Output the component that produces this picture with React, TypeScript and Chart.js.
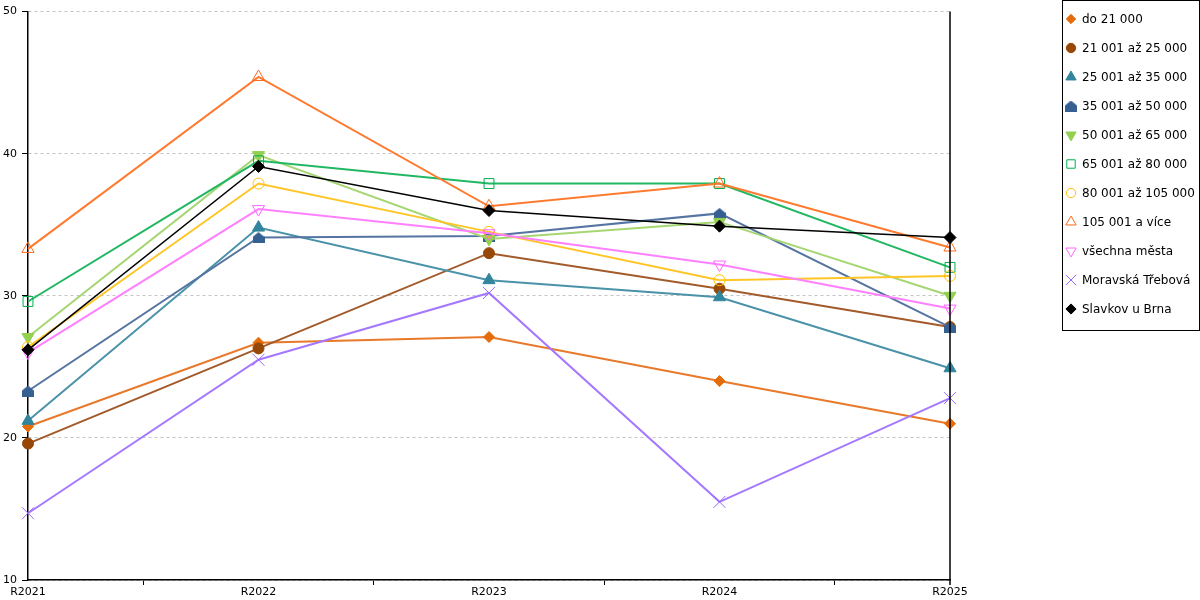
import React, { useEffect, useRef } from "react";
import { Chart, registerables } from "chart.js";
import { drawPoint } from "chart.js/helpers";

Chart.register(...registerables);

// categories
const years = ["R2021", "R2022", "R2023", "R2024", "R2025"];

// series values
const do21000 = [20.8, 26.7, 27.1, 24.0, 21.0];
const od21001 = [19.6, 26.3, 33.0, 30.5, 27.8];
const od25001 = [21.2, 34.8, 31.1, 29.9, 24.9];
const od35001 = [23.3, 34.1, 34.2, 35.8, 27.8];
const od50001 = [27.1, 39.9, 34.0, 35.2, 30.0];
const od65001 = [29.6, 39.5, 37.9, 37.9, 32.0];
const od80001 = [26.4, 37.9, 34.5, 31.1, 31.4];
const od105001 = [33.3, 45.4, 36.3, 37.9, 33.4];
const vsechnaMesta = [26.0, 36.1, 34.4, 32.2, 29.1];
const moravskaTrebova = [14.7, 25.5, 30.2, 15.5, 22.8];
const slavkov = [26.2, 39.1, 36.0, 34.9, 34.1];

// y axis
const yMin = 10;
const yMax = 50;
const yStep = 10;

const makeHouse = (color: string) => {
    const c = document.createElement("canvas");
    c.width = 12;
    c.height = 11;
    const ctx = c.getContext("2d")!;
    ctx.fillStyle = color;
    ctx.beginPath();
    ctx.moveTo(6, 0);
    ctx.lineTo(12, 5);
    ctx.lineTo(12, 11);
    ctx.lineTo(0, 11);
    ctx.lineTo(0, 5);
    ctx.closePath();
    ctx.fill();
    return c;
};

interface Series {
    label: string;
    values: number[];
    marker: string;
    line: string;
    style: any;
    radius: number;
    filled: boolean;
    rotation?: number;
    width?: number;
}

const legendBox = {
    id: "legendBox",
    afterDraw(chart: Chart) {
        const ctx = chart.ctx;
        const left = 1062.5;
        const top = 0.5;
        ctx.save();
        ctx.strokeStyle = "#000";
        ctx.lineWidth = 1;
        ctx.strokeRect(left, top, 137, 330);

        ctx.font = "12px 'DejaVu Sans'";
        ctx.textBaseline = "middle";
        ctx.textAlign = "left";
        chart.data.datasets.forEach((ds: any, i: number) => {
            const y = 19 + i * 29;
            ctx.fillStyle = ds.pointBackgroundColor;
            ctx.strokeStyle = ds.pointBorderColor;
            ctx.lineWidth = 1;
            drawPoint(
                ctx,
                {
                    pointStyle: ds.pointStyle,
                    rotation: ds.pointRotation || 0,
                    radius: ds.pointRadius * 0.85,
                    borderWidth: 1,
                },
                1071,
                y
            );
            ctx.fillStyle = "#000";
            ctx.fillText(ds.label, 1082, y + 1);
        });

        // right frame line of the plot
        const { chartArea } = chart;
        ctx.strokeStyle = "#000";
        ctx.lineWidth = 1.5;
        ctx.beginPath();
        ctx.moveTo(chartArea.right, chartArea.top);
        ctx.lineTo(chartArea.right, chartArea.bottom + 5);
        ctx.stroke();
        ctx.restore();
    },
};

const App: React.FC = () => {
    const chartRef = useRef<HTMLCanvasElement | null>(null);

    useEffect(() => {
        const canvas = chartRef.current;
        if (!canvas) return;

        const series: Series[] = [
            { label: "do 21 000", values: do21000, marker: "#E46C0A", line: "#E8792A", style: "rectRot", radius: 5.5, filled: true },
            { label: "21 001 až 25 000", values: od21001, marker: "#974706", line: "#A35A2A", style: "circle", radius: 5.5, filled: true },
            { label: "25 001 až 35 000", values: od25001, marker: "#31859C", line: "#4A92A8", style: "triangle", radius: 7, filled: true },
            { label: "35 001 až 50 000", values: od35001, marker: "#376092", line: "#5574A2", style: makeHouse("#376092"), radius: 6, filled: true },
            { label: "50 001 až 65 000", values: od50001, marker: "#92D050", line: "#A6D672", style: "triangle", radius: 7, filled: true, rotation: 180 },
            { label: "65 001 až 80 000", values: od65001, marker: "#00B050", line: "#22B762", style: "rect", radius: 7, filled: false },
            { label: "80 001 až 105 000", values: od80001, marker: "#FFC000", line: "#FFC526", style: "circle", radius: 5.5, filled: false },
            { label: "105 001 a více", values: od105001, marker: "#FF6A1A", line: "#FF7A2E", style: "triangle", radius: 7, filled: false },
            { label: "všechna města", values: vsechnaMesta, marker: "#FF66FF", line: "#FF80FF", style: "triangle", radius: 7, filled: false, rotation: 180 },
            { label: "Moravská Třebová", values: moravskaTrebova, marker: "#9966FF", line: "#A578FF", style: "crossRot", radius: 8.5, filled: false },
            { label: "Slavkov u Brna", values: slavkov, marker: "#000000", line: "#000000", style: "rectRot", radius: 6, filled: true, width: 1.5 },
        ];

        const chart = new Chart(canvas, {
            type: "line",
            data: {
                datasets: series.map((s, i) => ({
                    label: s.label,
                    data: s.values.map((v, j) => ({ x: j, y: v })),
                    borderColor: s.line,
                    borderWidth: s.width ?? 2,
                    pointStyle: s.style,
                    pointRadius: s.radius,
                    pointHoverRadius: s.radius,
                    pointRotation: s.rotation ?? 0,
                    pointBackgroundColor: s.filled ? s.marker : "rgba(0,0,0,0)",
                    pointBorderColor: s.marker,
                    pointBorderWidth: 1,
                    tension: 0,
                    fill: false,
                    clip: false,
                    order: series.length - i,
                })) as any,
            },
            options: {
                animation: false,
                responsive: false,
                maintainAspectRatio: false,
                layout: { padding: { top: 10, right: 250, left: 0, bottom: 0 } },
                plugins: {
                    legend: { display: false },
                    tooltip: { enabled: false },
                },
                scales: {
                    x: {
                        type: "linear",
                        min: 0,
                        max: years.length - 1,
                        afterFit: (scale: any) => {
                            scale.height = 20;
                        },
                        ticks: {
                            stepSize: 0.5,
                            autoSkip: false,
                            maxRotation: 0,
                            padding: 1,
                            color: "#000",
                            font: { family: "'DejaVu Sans'", size: 11 },
                            callback: (value: any) =>
                                Number.isInteger(value) ? years[value] : "",
                        },
                        grid: {
                            drawOnChartArea: false,
                            tickLength: 5,
                            tickColor: (ctx: any) =>
                                ctx.tick && Number.isInteger(ctx.tick.value) ? "rgba(0,0,0,0)" : "#000",
                        },
                        border: { display: true, color: "#000", width: 1.5 },
                    },
                    y: {
                        min: yMin,
                        max: yMax,
                        afterFit: (scale: any) => {
                            scale.width = 28;
                        },
                        ticks: {
                            stepSize: yStep,
                            padding: 5,
                            color: "#000",
                            font: { family: "'DejaVu Sans'", size: 11 },
                        },
                        grid: {
                            color: "#c4c4c4",
                            tickColor: "#000",
                            tickLength: 6,
                            lineWidth: 1,
                        },
                        border: { display: true, color: "#000", width: 1.5, dash: [3, 3] },
                    },
                },
            },
            plugins: [legendBox],
        });

        return () => {
            chart.destroy();
        };
    }, []);

    return (
        <div style={{ position: "fixed", left: 0, top: 0, width: 1200, height: 600, background: "#fff" }}>
            <canvas ref={chartRef} width={1200} height={600} style={{ width: 1200, height: 600 }}></canvas>
        </div>
    );
};

export default App;
